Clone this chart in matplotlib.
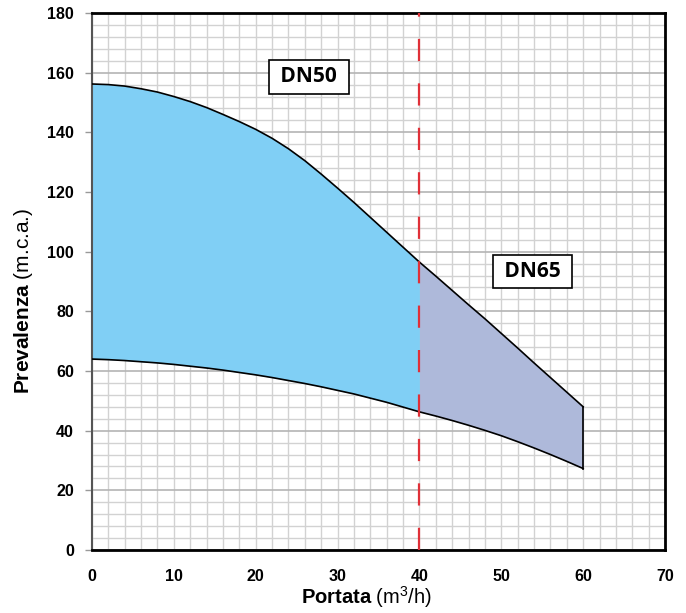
import matplotlib.pyplot as plt
from matplotlib.ticker import MultipleLocator

plt.rcParams['font.family'] = 'Liberation Sans'
plt.rcParams['mathtext.fontset'] = 'custom'
plt.rcParams['mathtext.rm'] = 'Liberation Sans'
plt.rcParams['mathtext.bf'] = 'Liberation Sans:bold'

# portata (m3/h) and prevalenza limits (m.c.a.)
flow = list(range(0, 62, 2))
head_max = [156.2, 156.0, 155.5, 154.6, 153.5, 152.0, 150.3, 148.3, 146.0, 143.6,
            141.0, 138.0, 134.5, 130.5, 126.0, 121.3, 116.5, 111.5, 106.5, 101.5,
            96.5, 91.8, 87.0, 82.2, 77.5, 72.6, 67.7, 62.7, 57.8, 52.9, 48.0]
head_min = [64.0, 63.8, 63.5, 63.1, 62.7, 62.2, 61.6, 61.0, 60.3, 59.5,
            58.7, 57.8, 56.8, 55.8, 54.7, 53.5, 52.3, 50.9, 49.5, 47.9,
            46.3, 44.9, 43.4, 41.8, 40.1, 38.3, 36.3, 34.2, 32.0, 29.7, 27.3]
split_flow = 40
labels = ["DN50", "DN65"]
label_pos = [(26.5, 158.6), (53.8, 93.3)]

fig = plt.figure(figsize=(6.86, 6.13), dpi=100)
ax = fig.add_axes([0.1341, 0.1028, 0.8353, 0.876])

ax.set_xlim(0, 70)
ax.set_ylim(0, 180)
ax.xaxis.set_major_locator(MultipleLocator(10))
ax.xaxis.set_minor_locator(MultipleLocator(2))
ax.yaxis.set_major_locator(MultipleLocator(20))
ax.yaxis.set_minor_locator(MultipleLocator(4))

ax.grid(which='minor', color='#d2d2d2', lw=1.0, zorder=0)
ax.grid(which='major', axis='x', color='#d2d2d2', lw=1.0, zorder=0)
ax.grid(which='major', axis='y', color='#b4b4b4', lw=1.2, zorder=0)
ax.set_axisbelow(True)

first = [i for i, f in enumerate(flow) if f <= split_flow]
second = [i for i, f in enumerate(flow) if f >= split_flow]
ax.fill_between([flow[i] for i in first], [head_min[i] for i in first],
                [head_max[i] for i in first], color='#80cff5', lw=0, zorder=2)
ax.fill_between([flow[i] for i in second], [head_min[i] for i in second],
                [head_max[i] for i in second], color='#aeb9da', lw=0, zorder=2)

ax.plot(flow, head_max, color='black', lw=1.2, zorder=3)
ax.plot(flow, head_min, color='black', lw=1.2, zorder=3)
ax.plot([flow[-1], flow[-1]], [head_min[-1], head_max[-1]], color='black', lw=1.2, zorder=3)

ax.axvline(split_flow, color='#e03038', lw=1.6, dashes=(10, 10), zorder=4)

for txt, (x, y) in zip(labels, label_pos):
    ax.text(x, y, " " + txt + " ", ha='center', va='center', fontsize=15,
            fontweight='bold', family='Open Sans', zorder=5,
            bbox=dict(boxstyle='square,pad=0.3', fc='white', ec='black', lw=1.2))

for side in ['top', 'right', 'bottom']:
    ax.spines[side].set_color('black')
    ax.spines[side].set_linewidth(2)
ax.spines['left'].set_color('#555555')
ax.spines['left'].set_linewidth(1.5)

ax.tick_params(axis='y', which='major', length=5, color='#999999', width=1, pad=8)
ax.tick_params(axis='x', which='major', length=0, pad=14)
ax.tick_params(which='minor', length=0)
for lab in ax.get_xticklabels() + ax.get_yticklabels():
    lab.set_fontweight('bold')
    lab.set_fontsize(11.5)

ax.set_xlabel(r"$\bf{Portata}$ (m$^3$/h)", fontsize=14.5)
ax.set_ylabel(r"$\bf{Prevalenza}$ (m.c.a.)", fontsize=15)
ax.xaxis.set_label_coords(0.479, -0.064)
ax.yaxis.set_label_coords(-0.100, 0.464)

fig.savefig('out.png', dpi=100)
